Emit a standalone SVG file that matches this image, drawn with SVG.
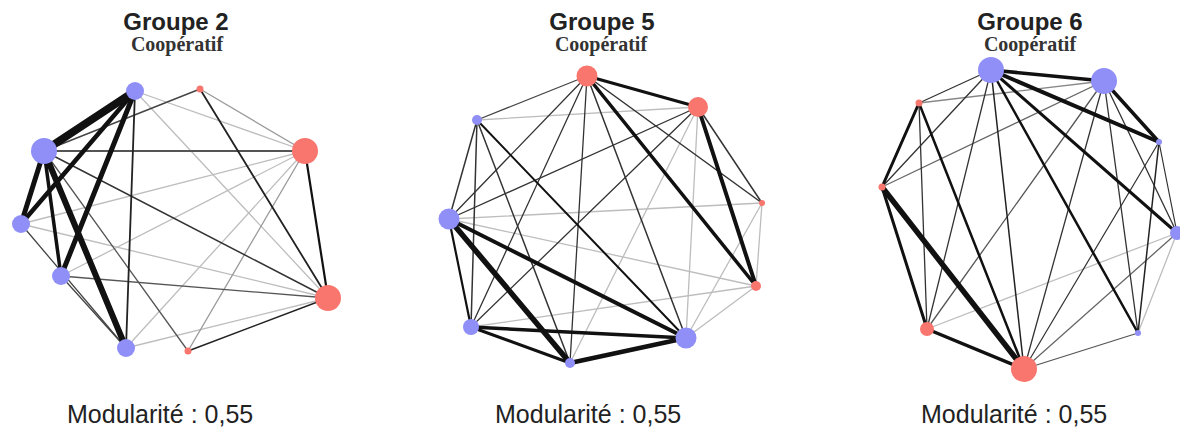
<svg xmlns="http://www.w3.org/2000/svg" width="1180" height="428" viewBox="0 0 1180 428">
<style>
.t{font-family:"Liberation Sans",Arial,sans-serif;font-weight:bold;font-size:24px;fill:#222;text-anchor:middle}
.s{font-family:"Liberation Serif","Times New Roman",serif;font-weight:bold;font-size:20px;fill:#333;text-anchor:middle}
.m{font-family:"Liberation Sans",Arial,sans-serif;font-size:25px;fill:#222}
.b{fill:#8F8FF7}
.r{fill:#F8766D}
line{stroke-linecap:round}
.k{stroke:#111}
.d{stroke:#333;stroke-width:1.4}
.g{stroke:#666;stroke-width:1.3}
.l{stroke:#bdbdbd;stroke-width:1.3}
</style>
<rect width="1180" height="428" fill="#fff"/>
<g id="titles">
<text class="t" x="176" y="30">Groupe 2</text>
<text class="s" x="177" y="51">Coopératif</text>
<text class="t" x="602" y="30">Groupe 5</text>
<text class="s" x="601" y="51">Coopératif</text>
<text class="t" x="1030" y="30">Groupe 6</text>
<text class="s" x="1030" y="51">Coopératif</text>
<text class="m" x="67" y="423">Modularité : 0,55</text>
<text class="m" x="495" y="423">Modularité : 0,55</text>
<text class="m" x="921" y="423">Modularité : 0,55</text>
</g>
<g id="connectors">
<!-- Groupe 2 -->
<line class="l" x1="135" y1="91" x2="305" y2="151"/>
<line class="l" x1="135" y1="91" x2="328" y2="298"/>
<line class="l" x1="21" y1="224" x2="305" y2="151"/>
<line class="l" x1="21" y1="224" x2="328" y2="298"/>
<line class="l" x1="61" y1="276" x2="305" y2="151"/>
<line class="l" x1="126" y1="348" x2="305" y2="151"/>
<line class="l" x1="126" y1="348" x2="328" y2="298"/>
<line class="g" x1="188" y1="351" x2="305" y2="151" style="stroke:#999"/>
<line class="g" x1="200" y1="89" x2="305" y2="151" style="stroke:#999"/>
<line class="d" x1="44" y1="151" x2="200" y2="89" style="stroke:#444"/>
<line class="d" x1="44" y1="151" x2="305" y2="151" style="stroke:#555;stroke-width:1.8"/>
<line class="d" x1="44" y1="151" x2="328" y2="298" style="stroke:#333;stroke-width:1.5"/>
<line class="g" x1="44" y1="151" x2="188" y2="351" style="stroke:#555"/>
<line class="g" x1="21" y1="224" x2="126" y2="348" style="stroke:#444"/>
<line class="g" x1="61" y1="276" x2="126" y2="348" style="stroke:#444"/>
<line class="g" x1="61" y1="276" x2="328" y2="298" style="stroke:#555"/>
<line class="d" x1="188" y1="351" x2="328" y2="298" style="stroke:#222;stroke-width:1.6"/>
<line class="d" x1="200" y1="89" x2="328" y2="298" style="stroke:#222;stroke-width:1.8"/>
<line class="d" x1="305" y1="151" x2="328" y2="298" style="stroke:#111;stroke-width:2.2"/>
<line class="d" x1="135" y1="91" x2="126" y2="348" style="stroke:#222;stroke-width:1.8"/>
<line class="k" x1="44" y1="151" x2="61" y2="276" stroke-width="3.5"/>
<line class="k" x1="44" y1="151" x2="21" y2="224" stroke-width="5"/>
<line class="k" x1="135" y1="91" x2="21" y2="224" stroke-width="4.5"/>
<line class="k" x1="135" y1="91" x2="61" y2="276" stroke-width="5"/>
<line class="k" x1="44" y1="151" x2="126" y2="348" stroke-width="6"/>
<line class="k" x1="135" y1="91" x2="44" y2="151" stroke-width="8"/>
<!-- Groupe 5 -->
<line class="l" x1="698" y1="107" x2="477" y2="120"/>
<line class="l" x1="698" y1="107" x2="570" y2="363"/>
<line class="l" x1="698" y1="107" x2="686" y2="338"/>
<line class="l" x1="762" y1="203" x2="449" y2="219"/>
<line class="l" x1="762" y1="203" x2="756" y2="286"/>
<line class="l" x1="762" y1="203" x2="686" y2="338"/>
<line class="l" x1="756" y1="286" x2="449" y2="219"/>
<line class="l" x1="756" y1="286" x2="471" y2="327"/>
<line class="l" x1="756" y1="286" x2="686" y2="338"/>
<line class="d" x1="587" y1="76" x2="477" y2="120" style="stroke:#444;stroke-width:1.3"/>
<line class="d" x1="587" y1="76" x2="449" y2="219" style="stroke-width:1.3"/>
<line class="d" x1="587" y1="76" x2="471" y2="327" style="stroke-width:1.3"/>
<line class="d" x1="587" y1="76" x2="570" y2="363" style="stroke-width:1.3"/>
<line class="d" x1="587" y1="76" x2="686" y2="338" style="stroke-width:1.5"/>
<line class="d" x1="587" y1="76" x2="762" y2="203" style="stroke-width:1.5"/>
<line class="d" x1="698" y1="107" x2="449" y2="219" style="stroke-width:1.3"/>
<line class="d" x1="698" y1="107" x2="471" y2="327" style="stroke-width:1.3"/>
<line class="d" x1="698" y1="107" x2="762" y2="203" style="stroke-width:1.5"/>
<line class="d" x1="477" y1="120" x2="686" y2="338" style="stroke:#111;stroke-width:2"/>
<line class="d" x1="477" y1="120" x2="570" y2="363" style="stroke-width:1.5"/>
<line class="d" x1="477" y1="120" x2="471" y2="327" style="stroke-width:1.5"/>
<line class="d" x1="477" y1="120" x2="449" y2="219" style="stroke-width:1.5"/>
<line class="d" x1="449" y1="219" x2="471" y2="327" style="stroke:#111;stroke-width:2.2"/>
<line class="k" x1="587" y1="76" x2="698" y2="107" stroke-width="3"/>
<line class="k" x1="587" y1="76" x2="756" y2="286" stroke-width="3.5"/>
<line class="k" x1="698" y1="107" x2="756" y2="286" stroke-width="4"/>
<line class="k" x1="471" y1="327" x2="570" y2="363" stroke-width="3"/>
<line class="k" x1="471" y1="327" x2="686" y2="338" stroke-width="3.5"/>
<line class="k" x1="449" y1="219" x2="686" y2="338" stroke-width="4"/>
<line class="k" x1="570" y1="363" x2="686" y2="338" stroke-width="4.5"/>
<line class="k" x1="449" y1="219" x2="570" y2="363" stroke-width="5.5"/>
<!-- Groupe 6 -->
<line class="l" x1="1177" y1="233" x2="927" y2="329"/>
<line class="l" x1="1177" y1="233" x2="1138" y2="333"/>
<line class="g" x1="1104" y1="81" x2="919" y2="103" style="stroke:#888"/>
<line class="g" x1="1104" y1="81" x2="882" y2="187" style="stroke:#666"/>
<line class="g" x1="1104" y1="81" x2="927" y2="329" style="stroke:#555"/>
<line class="g" x1="1177" y1="233" x2="1024" y2="369" style="stroke:#666"/>
<line class="g" x1="1138" y1="333" x2="1024" y2="369" style="stroke:#555"/>
<line class="d" x1="991" y1="70" x2="1024" y2="369" style="stroke:#222;stroke-width:1.5"/>
<line class="d" x1="991" y1="70" x2="927" y2="329" style="stroke-width:1.3"/>
<line class="d" x1="991" y1="70" x2="882" y2="187" style="stroke-width:1.3"/>
<line class="d" x1="991" y1="70" x2="919" y2="103" style="stroke-width:1.3"/>
<line class="d" x1="1104" y1="81" x2="1024" y2="369" style="stroke-width:1.3"/>
<line class="d" x1="1104" y1="81" x2="1138" y2="333" style="stroke-width:1.3"/>
<line class="d" x1="1104" y1="81" x2="1177" y2="233" style="stroke-width:1.3"/>
<line class="d" x1="1159" y1="142" x2="1177" y2="233" style="stroke-width:1.2"/>
<line class="d" x1="1159" y1="142" x2="1138" y2="333" style="stroke:#222;stroke-width:1.5"/>
<line class="d" x1="1159" y1="142" x2="1024" y2="369" style="stroke-width:1.2"/>
<line class="d" x1="927" y1="329" x2="919" y2="103" style="stroke-width:1.3"/>
<line class="k" x1="991" y1="70" x2="1138" y2="333" stroke-width="2.5"/>
<line class="k" x1="919" y1="103" x2="1024" y2="369" stroke-width="2.5"/>
<line class="k" x1="991" y1="70" x2="1177" y2="233" stroke-width="3"/>
<line class="k" x1="991" y1="70" x2="1104" y2="81" stroke-width="3.5"/>
<line class="k" x1="991" y1="70" x2="1159" y2="142" stroke-width="4"/>
<line class="k" x1="1104" y1="81" x2="1159" y2="142" stroke-width="3.5"/>
<line class="k" x1="882" y1="187" x2="919" y2="103" stroke-width="3"/>
<line class="k" x1="882" y1="187" x2="927" y2="329" stroke-width="3"/>
<line class="k" x1="927" y1="329" x2="1024" y2="369" stroke-width="3.5"/>
<line class="k" x1="882" y1="187" x2="1024" y2="369" stroke-width="5.5"/>
</g>
<g id="g2-A"><circle class="b" cx="135" cy="91" r="9"/></g>
<g id="g2-B"><circle class="r" cx="200" cy="89" r="3.5"/></g>
<g id="g2-C"><circle class="r" cx="305" cy="151" r="13"/></g>
<g id="g2-D"><circle class="r" cx="328" cy="298" r="13"/></g>
<g id="g2-E"><circle class="r" cx="188" cy="351" r="3.5"/></g>
<g id="g2-F"><circle class="b" cx="126" cy="348" r="9"/></g>
<g id="g2-G"><circle class="b" cx="61" cy="276" r="9"/></g>
<g id="g2-H"><circle class="b" cx="21" cy="224" r="9"/></g>
<g id="g2-I"><circle class="b" cx="44" cy="151" r="13"/></g>
<g id="g5-A"><circle class="r" cx="587" cy="76" r="10.5"/></g>
<g id="g5-B"><circle class="r" cx="698" cy="107" r="10"/></g>
<g id="g5-C"><circle class="r" cx="762" cy="203" r="3"/></g>
<g id="g5-D"><circle class="r" cx="756" cy="286" r="5"/></g>
<g id="g5-E"><circle class="b" cx="686" cy="338" r="10.5"/></g>
<g id="g5-F"><circle class="b" cx="570" cy="363" r="5"/></g>
<g id="g5-G"><circle class="b" cx="471" cy="327" r="8"/></g>
<g id="g5-H"><circle class="b" cx="449" cy="219" r="10.5"/></g>
<g id="g5-I"><circle class="b" cx="477" cy="120" r="5"/></g>
<g id="g6-A"><circle class="b" cx="991" cy="70" r="13"/></g>
<g id="g6-B"><circle class="b" cx="1104" cy="81" r="13"/></g>
<g id="g6-C"><circle class="b" cx="1159" cy="142" r="3"/></g>
<g id="g6-D"><circle class="b" cx="1177" cy="233" r="7"/></g>
<g id="g6-E"><circle class="b" cx="1138" cy="333" r="3"/></g>
<g id="g6-F"><circle class="r" cx="1024" cy="369" r="13"/></g>
<g id="g6-G"><circle class="r" cx="927" cy="329" r="7"/></g>
<g id="g6-H"><circle class="r" cx="882" cy="187" r="3.5"/></g>
<g id="g6-I"><circle class="r" cx="919" cy="103" r="3.5"/></g>
</svg>
